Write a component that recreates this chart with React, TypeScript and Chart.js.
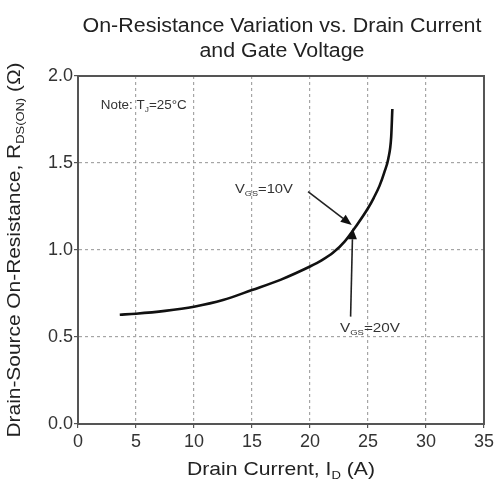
import { useEffect, useRef } from "react";
import { Chart, registerables } from "chart.js";

Chart.register(...registerables);

const FONT = '"Liberation Sans", Arial, sans-serif';

// Drain current (A) and on-resistance (ohm)
const drainCurrent = [3.6, 5, 7.5, 10, 12.5, 15, 17.5, 20, 21, 22, 23, 24, 25, 25.5, 26, 26.4, 26.75, 27.0, 27.1];
const onResistance = [0.628, 0.634, 0.65, 0.674, 0.712, 0.77, 0.83, 0.905, 0.94, 0.985, 1.05, 1.14, 1.24, 1.3, 1.37, 1.445, 1.525, 1.65, 1.81];

const xTicks = [0, 5, 10, 15, 20, 25, 30, 35];
const yTicks = [0.0, 0.5, 1.0, 1.5, 2.0];

const titleLines = ["On-Resistance Variation vs. Drain Current", "and Gate Voltage"];

// Annotation arrows in data units: [fromX, fromY, toX, toY]
const arrow10V = [19.83, 1.335, 23.6, 1.144];
const arrow20V = [23.5, 0.617, 23.68, 1.125];
// Label anchors in data units (left, baseline)
const label10V = [13.53, 1.328];
const label20V = [22.59, 0.53];
const noteAnchor = [1.96, 1.81];

type Run = { t: string; sub?: boolean };

function runFont(size: number, sub?: boolean) {
  return `${sub ? size * 0.62 : size}px ${FONT}`;
}
function richWidth(ctx: CanvasRenderingContext2D, runs: Run[], size: number) {
  let w = 0;
  for (const r of runs) {
    ctx.font = runFont(size, r.sub);
    w += ctx.measureText(r.t).width;
  }
  return w;
}
function drawRich(
  ctx: CanvasRenderingContext2D,
  runs: Run[],
  x: number,
  y: number,
  size: number,
  align: "left" | "center",
  targetWidth?: number
) {
  const w = richWidth(ctx, runs, size);
  const sx = targetWidth ? targetWidth / w : 1;
  ctx.save();
  ctx.translate(x, y);
  ctx.scale(sx, 1);
  let cx = align === "center" ? -w / 2 : 0;
  ctx.textAlign = "left";
  ctx.textBaseline = "alphabetic";
  for (const r of runs) {
    ctx.font = runFont(size, r.sub);
    ctx.fillText(r.t, cx, r.sub ? size * 0.22 : 0);
    cx += ctx.measureText(r.t).width;
  }
  ctx.restore();
}

function drawArrow(ctx: CanvasRenderingContext2D, x1: number, y1: number, x2: number, y2: number) {
  const ang = Math.atan2(y2 - y1, x2 - x1);
  const len = 11;
  const half = 4.5;
  const bx = x2 - Math.cos(ang) * len;
  const by = y2 - Math.sin(ang) * len;
  ctx.beginPath();
  ctx.moveTo(x1, y1);
  ctx.lineTo(bx, by);
  ctx.lineWidth = 1.6;
  ctx.strokeStyle = "#222";
  ctx.stroke();
  ctx.beginPath();
  ctx.moveTo(x2, y2);
  ctx.lineTo(bx + Math.sin(ang) * half, by - Math.cos(ang) * half);
  ctx.lineTo(bx - Math.sin(ang) * half, by + Math.cos(ang) * half);
  ctx.closePath();
  ctx.fillStyle = "#111";
  ctx.fill();
}

const overlay = {
  id: "overlay",
  afterDraw(chart: any) {
    const ctx: CanvasRenderingContext2D = chart.ctx;
    const { left, right, top, bottom } = chart.chartArea;
    const xs = chart.scales.x;
    const ys = chart.scales.y;
    ctx.save();
    // frame
    ctx.strokeStyle = "#555";
    ctx.lineWidth = 2;
    ctx.strokeRect(left, top, right - left, bottom - top);

    ctx.fillStyle = "#222";
    // title
    const cx = (left + right) / 2;
    drawRich(ctx, [{ t: titleLines[0] }], cx + 1, 32, 20, "center", 399);
    drawRich(ctx, [{ t: titleLines[1] }], cx + 1, 57, 20, "center", 165);

    // x axis title
    drawRich(
      ctx,
      [{ t: "Drain Current, I" }, { t: "D", sub: true }, { t: " (A)" }],
      281,
      475,
      18.5,
      "center",
      188
    );

    // y axis title (rotated)
    ctx.save();
    ctx.translate(20, 250);
    ctx.rotate(-Math.PI / 2);
    drawRich(
      ctx,
      [
        { t: "Drain-Source On-Resistance, R" },
        { t: "DS(ON)", sub: true },
        { t: " (Ω)" },
      ],
      0,
      0,
      18.5,
      "center",
      375
    );
    ctx.restore();

    // annotations
    ctx.fillStyle = "#333";
    drawRich(
      ctx,
      [{ t: "Note: T" }, { t: "J", sub: true }, { t: "=25°C" }],
      xs.getPixelForValue(noteAnchor[0]),
      ys.getPixelForValue(noteAnchor[1]),
      13,
      "left",
      86
    );
    drawRich(
      ctx,
      [{ t: "V" }, { t: "GS", sub: true }, { t: "=10V" }],
      xs.getPixelForValue(label10V[0]),
      ys.getPixelForValue(label10V[1]),
      13,
      "left",
      58
    );
    drawRich(
      ctx,
      [{ t: "V" }, { t: "GS", sub: true }, { t: "=20V" }],
      xs.getPixelForValue(label20V[0]),
      ys.getPixelForValue(label20V[1]),
      13,
      "left",
      60
    );
    for (const a of [arrow10V, arrow20V]) {
      drawArrow(
        ctx,
        xs.getPixelForValue(a[0]),
        ys.getPixelForValue(a[1]),
        xs.getPixelForValue(a[2]),
        ys.getPixelForValue(a[3])
      );
    }
    ctx.restore();
  },
};

export default function App() {
  const ref = useRef<HTMLCanvasElement | null>(null);
  useEffect(() => {
    document.body.style.margin = "0";
    const canvas = ref.current!;
    const chart = new Chart(canvas, {
      type: "line",
      data: {
        datasets: [
          {
            data: drainCurrent.map((x, i) => ({ x, y: onResistance[i] })),
            borderColor: "#111",
            borderWidth: 2.6,
            pointRadius: 0,
            fill: false,
            cubicInterpolationMode: "monotone",
          },
        ],
      },
      options: {
        responsive: false,
        animation: false,
        devicePixelRatio: 1,
        layout: { padding: { top: 76, right: 13, left: 0, bottom: 0 } },
        plugins: { legend: { display: false }, tooltip: { enabled: false }, title: { display: false } },
        scales: {
          x: {
            type: "linear",
            min: 0,
            max: 35,
            afterFit: (s: any) => {
              s.height = 59;
            },
            afterBuildTicks: (s: any) => {
              s.ticks = xTicks.map((v) => ({ value: v }));
            },
            ticks: {
              color: "#333",
              font: { family: FONT, size: 18 },
              padding: 3,
              maxRotation: 0,
              callback: (v: any) => String(v),
            },
            grid: {
              color: (c: any) => (c.index === 0 || c.index === xTicks.length - 1 ? "rgba(0,0,0,0)" : "#a5a5a5"),
              lineWidth: 1.2,
              drawTicks: true,
              tickLength: 4,
              tickColor: "#555",
            },
            border: { display: true, color: "#555", width: 2, dash: [3, 3] },
          },
          y: {
            type: "linear",
            min: 0,
            max: 2,
            afterFit: (s: any) => {
              s.width = 78;
            },
            afterBuildTicks: (s: any) => {
              s.ticks = yTicks.map((v) => ({ value: v }));
            },
            ticks: {
              color: "#333",
              font: { family: FONT, size: 18 },
              padding: 1,
              callback: (v: any) => Number(v).toFixed(1),
            },
            grid: {
              color: (c: any) => (c.index === 0 || c.index === yTicks.length - 1 ? "rgba(0,0,0,0)" : "#a5a5a5"),
              lineWidth: 1.2,
              drawTicks: true,
              tickLength: 4,
              tickColor: "#555",
            },
            border: { display: true, color: "#555", width: 2, dash: [3, 3] },
          },
        },
      },
      plugins: [overlay],
    } as any);
    return () => chart.destroy();
  }, []);
  return (
    <div style={{ position: "relative", width: 497, height: 483 }}>
      <canvas ref={ref} width={497} height={483} style={{ display: "block" }} />
    </div>
  );
}
